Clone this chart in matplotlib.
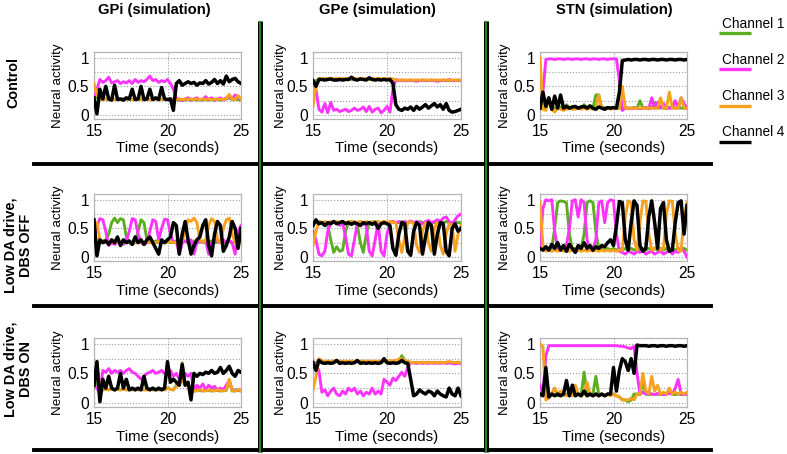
import numpy as np
import matplotlib
matplotlib.use("Agg")
import matplotlib.pyplot as plt
from matplotlib.lines import Line2D

plt.rcParams['font.family'] = ['Liberation Sans', 'DejaVu Sans']

# ---------------- data ----------------
time_s = np.linspace(15, 25, 51)
col_titles = ["GPi (simulation)", "GPe (simulation)", "STN (simulation)"]
row_titles = ["Control", "Low DA drive,\nDBS OFF", "Low DA drive,\nDBS ON"]
channel_names = ["Channel 1", "Channel 2", "Channel 3", "Channel 4"]
x_ticks = [15, 20, 25]
y_ticks = [0, 0.5, 1]
y_ticklabels = ["0", "0.5", "1"]

# Control, GPi
gpi_ctrl_ch1 = [0.30,0.30,0.28,0.27,0.28,0.27,0.28,0.27,0.28,0.27,
                0.28,0.27,0.28,0.27,0.28,0.27,0.28,0.27,0.28,0.27,
                0.28,0.27,0.28,0.27,0.28,0.27,0.28,0.27,0.27,0.26,
                0.27,0.26,0.27,0.26,0.27,0.26,0.27,0.26,0.27,0.26,
                0.27,0.26,0.27,0.26,0.27,0.28,0.30,0.27,0.28,0.27,0.26]
gpi_ctrl_ch2 = [0.30,0.45,0.62,0.57,0.60,0.66,0.56,0.58,0.60,0.55,
                0.58,0.56,0.60,0.55,0.62,0.57,0.60,0.58,0.62,0.68,
                0.60,0.62,0.57,0.60,0.58,0.62,0.55,0.45,0.28,0.28,
                0.25,0.28,0.30,0.26,0.28,0.30,0.26,0.28,0.32,0.27,
                0.30,0.26,0.28,0.30,0.26,0.30,0.33,0.28,0.35,0.30,0.28]
gpi_ctrl_ch3 = [0.55,0.35,0.28,0.27,0.28,0.27,0.28,0.27,0.28,0.27,
                0.28,0.27,0.28,0.27,0.28,0.27,0.28,0.27,0.28,0.27,
                0.28,0.27,0.28,0.27,0.28,0.27,0.28,0.27,0.27,0.28,
                0.27,0.28,0.27,0.28,0.27,0.28,0.27,0.28,0.27,0.28,
                0.27,0.28,0.27,0.28,0.27,0.28,0.36,0.28,0.27,0.34,0.28]
gpi_ctrl_ch4 = [0.30,0.02,0.45,0.28,0.50,0.28,0.26,0.52,0.27,0.28,
                0.26,0.30,0.28,0.45,0.27,0.28,0.50,0.27,0.28,0.45,
                0.27,0.30,0.27,0.48,0.28,0.27,0.28,0.08,0.55,0.60,
                0.52,0.55,0.58,0.55,0.57,0.52,0.56,0.55,0.60,0.54,
                0.57,0.62,0.55,0.60,0.54,0.68,0.58,0.62,0.64,0.58,0.55]

# Control, GPe
gpe_ctrl_ch1 = [0.55,0.60,0.62,0.62,0.62,0.62,0.62,0.62,0.62,0.62,
                0.62,0.62,0.62,0.62,0.62,0.62,0.62,0.62,0.62,0.62,
                0.62,0.62,0.62,0.62,0.62,0.62,0.62,0.61,0.60,0.60,
                0.60,0.60,0.60,0.60,0.60,0.60,0.60,0.60,0.60,0.60,
                0.60,0.60,0.60,0.60,0.60,0.60,0.60,0.60,0.60,0.60,0.60]
gpe_ctrl_ch2 = [0.60,0.45,0.10,0.05,0.20,0.04,0.22,0.08,0.10,0.06,
                0.08,0.10,0.06,0.08,0.12,0.08,0.10,0.14,0.06,0.15,
                0.05,0.10,0.12,0.04,0.08,0.15,0.05,0.45,0.62,0.60,
                0.61,0.60,0.60,0.61,0.60,0.59,0.60,0.61,0.60,0.60,
                0.61,0.60,0.59,0.60,0.61,0.60,0.62,0.60,0.60,0.61,0.60]
gpe_ctrl_ch3 = [0.15,0.50,0.64,0.63,0.64,0.63,0.64,0.63,0.64,0.63,
                0.64,0.63,0.64,0.63,0.64,0.63,0.64,0.63,0.64,0.63,
                0.64,0.63,0.64,0.63,0.64,0.63,0.64,0.63,0.61,0.61,
                0.61,0.61,0.61,0.61,0.61,0.61,0.61,0.61,0.61,0.61,
                0.61,0.61,0.61,0.61,0.61,0.61,0.61,0.61,0.61,0.61,0.61]
gpe_ctrl_ch4 = [0.60,0.50,0.62,0.62,0.61,0.62,0.63,0.61,0.61,0.62,
                0.61,0.62,0.62,0.66,0.62,0.61,0.63,0.62,0.61,0.65,
                0.62,0.61,0.62,0.61,0.62,0.61,0.62,0.55,0.18,0.10,
                0.08,0.12,0.10,0.14,0.08,0.15,0.10,0.14,0.18,0.12,
                0.16,0.20,0.14,0.18,0.10,0.20,0.08,0.05,0.06,0.08,0.10]

# Control, STN
stn_ctrl_ch1 = [0.12,0.12,0.14,0.30,0.12,0.12,0.12,0.14,0.12,0.18,
                0.12,0.14,0.12,0.13,0.12,0.18,0.12,0.13,0.12,0.35,
                0.35,0.12,0.13,0.12,0.13,0.12,0.12,0.12,0.12,0.12,
                0.12,0.12,0.13,0.12,0.25,0.12,0.13,0.12,0.12,0.22,
                0.12,0.13,0.12,0.12,0.13,0.15,0.12,0.13,0.12,0.12,0.12]
stn_ctrl_ch2 = [0.12,0.40,0.97,0.98,0.98,0.97,0.98,0.98,0.97,0.98,
                0.98,0.97,0.98,0.98,0.97,0.98,0.98,0.97,0.98,0.98,
                0.97,0.98,0.98,0.97,0.98,0.98,0.98,0.60,0.08,0.12,
                0.12,0.11,0.12,0.12,0.11,0.12,0.12,0.11,0.30,0.12,
                0.22,0.12,0.20,0.12,0.12,0.12,0.25,0.12,0.30,0.20,0.12]
stn_ctrl_ch3 = [1.00,0.10,0.08,0.25,0.10,0.05,0.12,0.10,0.08,0.10,
                0.12,0.10,0.10,0.12,0.10,0.12,0.10,0.12,0.10,0.12,
                0.35,0.12,0.10,0.12,0.10,0.12,0.12,0.12,0.50,0.12,
                0.12,0.12,0.12,0.12,0.12,0.12,0.12,0.12,0.12,0.12,
                0.12,0.30,0.12,0.12,0.40,0.12,0.12,0.12,0.30,0.12,0.12]
stn_ctrl_ch4 = [0.12,0.40,0.15,0.30,0.10,0.33,0.12,0.35,0.12,0.15,
                0.12,0.14,0.15,0.12,0.14,0.15,0.12,0.16,0.12,0.10,
                0.14,0.12,0.10,0.13,0.12,0.13,0.12,0.40,0.95,0.96,
                0.97,0.96,0.97,0.97,0.96,0.97,0.97,0.96,0.97,0.97,
                0.96,0.97,0.97,0.96,0.97,0.97,0.96,0.97,0.97,0.96,0.97]

# Low DA, DBS OFF, GPi
gpi_off_ch1 = [0.25,0.28,0.25,0.28,0.30,0.40,0.60,0.68,0.60,0.67,
               0.65,0.35,0.25,0.22,0.25,0.45,0.65,0.60,0.30,0.25,
               0.26,0.28,0.25,0.27,0.26,0.28,0.25,0.26,0.28,0.25,
               0.26,0.28,0.25,0.26,0.28,0.25,0.26,0.28,0.25,0.26,
               0.28,0.25,0.26,0.28,0.25,0.26,0.28,0.25,0.26,0.28,0.25]
gpi_off_ch2 = [0.25,0.55,0.67,0.65,0.45,0.20,0.25,0.22,0.25,0.25,
               0.22,0.28,0.45,0.67,0.65,0.40,0.25,0.22,0.25,0.45,
               0.65,0.62,0.30,0.50,0.66,0.65,0.40,0.25,0.28,0.05,
               0.25,0.28,0.25,0.30,0.05,0.25,0.28,0.25,0.28,0.05,
               0.25,0.30,0.28,0.25,0.30,0.25,0.28,0.25,0.05,0.45,0.55]
gpi_off_ch3 = [0.50,0.60,0.30,0.25,0.26,0.25,0.27,0.25,0.26,0.25,
               0.27,0.25,0.26,0.25,0.27,0.25,0.26,0.25,0.27,0.25,
               0.26,0.25,0.27,0.25,0.26,0.25,0.27,0.25,0.26,0.25,
               0.28,0.45,0.65,0.62,0.68,0.60,0.30,0.25,0.30,0.55,
               0.67,0.62,0.30,0.25,0.50,0.65,0.68,0.40,0.25,0.28,0.25]
gpi_off_ch4 = [0.65,0.02,0.30,0.25,0.28,0.22,0.30,0.25,0.35,0.20,
               0.30,0.25,0.28,0.22,0.35,0.25,0.30,0.22,0.30,0.35,
               0.25,0.15,0.05,0.30,0.25,0.30,0.35,0.60,0.55,0.05,
               0.40,0.62,0.30,0.05,0.20,0.30,0.35,0.55,0.65,0.20,
               0.02,0.40,0.62,0.55,0.10,0.20,0.35,0.62,0.50,0.15,0.50]

# Low DA, DBS OFF, GPe
gpe_off_ch1 = [0.60,0.60,0.62,0.60,0.60,0.55,0.30,0.08,0.18,0.10,
               0.12,0.45,0.60,0.62,0.60,0.55,0.25,0.08,0.40,0.60,
               0.60,0.62,0.60,0.60,0.62,0.60,0.60,0.62,0.60,0.60,
               0.62,0.60,0.60,0.62,0.60,0.60,0.62,0.60,0.60,0.62,
               0.60,0.60,0.62,0.60,0.60,0.62,0.60,0.60,0.62,0.60,0.60]
gpe_off_ch2 = [0.45,0.30,0.05,0.02,0.10,0.45,0.60,0.62,0.60,0.55,
               0.60,0.35,0.05,0.02,0.30,0.60,0.62,0.58,0.55,0.10,
               0.02,0.30,0.60,0.10,0.02,0.40,0.60,0.62,0.60,0.62,
               0.58,0.62,0.60,0.63,0.60,0.62,0.60,0.58,0.62,0.64,
               0.60,0.62,0.65,0.62,0.68,0.70,0.62,0.58,0.65,0.72,0.75]
gpe_off_ch3 = [0.20,0.45,0.62,0.60,0.62,0.60,0.62,0.60,0.62,0.60,
               0.62,0.60,0.62,0.60,0.62,0.60,0.62,0.60,0.62,0.60,
               0.62,0.60,0.62,0.60,0.62,0.60,0.62,0.60,0.60,0.30,
               0.08,0.35,0.60,0.62,0.58,0.20,0.08,0.45,0.60,0.25,
               0.10,0.50,0.60,0.20,0.05,0.40,0.58,0.55,0.10,0.40,0.55]
gpe_off_ch4 = [0.55,0.65,0.58,0.60,0.55,0.60,0.58,0.62,0.58,0.60,
               0.62,0.58,0.60,0.57,0.60,0.58,0.55,0.60,0.58,0.60,
               0.57,0.60,0.50,0.58,0.60,0.58,0.55,0.15,0.03,0.40,
               0.60,0.58,0.10,0.03,0.45,0.60,0.55,0.05,0.35,0.60,
               0.55,0.05,0.40,0.60,0.58,0.10,0.02,0.50,0.58,0.45,0.50]

# Low DA, DBS OFF, STN
stn_off_ch1 = [0.15,0.12,0.15,0.12,0.15,0.50,0.95,0.98,0.97,0.95,
               0.40,0.12,0.15,0.12,0.15,0.40,0.95,0.98,0.95,0.45,
               0.12,0.15,0.12,0.15,0.12,0.15,0.12,0.15,0.12,0.15,
               0.12,0.15,0.12,0.15,0.12,0.15,0.12,0.15,0.12,0.15,
               0.12,0.15,0.12,0.15,0.12,0.15,0.12,0.15,0.12,0.15,0.12]
stn_off_ch2 = [0.15,0.85,1.00,0.98,1.00,0.45,0.15,0.12,0.15,0.20,
               0.50,0.98,1.00,0.70,1.00,0.95,0.30,0.12,0.15,0.30,
               0.95,0.98,0.60,0.95,1.00,0.98,0.40,0.10,0.08,0.05,
               0.10,0.08,0.05,0.10,0.08,0.12,0.05,0.08,0.10,0.05,
               0.08,0.10,0.05,0.08,0.12,0.05,0.10,0.08,0.15,0.10,0.00]
stn_off_ch3 = [0.95,0.20,0.10,0.12,0.10,0.12,0.10,0.12,0.10,0.12,
               0.10,0.12,0.10,0.12,0.10,0.12,0.10,0.12,0.10,0.12,
               0.10,0.12,0.10,0.12,0.10,0.12,0.10,0.12,0.12,0.70,
               0.98,0.95,0.30,0.12,0.60,0.98,0.97,0.40,0.12,0.15,
               0.20,0.12,0.15,0.75,0.98,0.97,0.40,0.12,0.10,0.70,0.95]
stn_off_ch4 = [0.15,0.12,0.18,0.12,0.22,0.15,0.25,0.12,0.20,0.10,
               0.22,0.15,0.08,0.20,0.15,0.25,0.15,0.20,0.12,0.18,
               0.15,0.20,0.18,0.25,0.30,0.20,0.55,0.97,0.95,0.30,
               0.12,0.60,0.98,0.90,0.20,0.10,0.15,0.70,0.98,0.60,
               0.15,0.85,0.95,0.30,0.10,0.12,0.60,0.95,0.98,0.40,0.90]

# Low DA, DBS ON, GPi
gpi_on_ch1 = [0.25,0.40,0.20,0.22,0.25,0.22,0.24,0.22,0.23,0.22,
              0.24,0.22,0.23,0.22,0.24,0.22,0.23,0.40,0.22,0.24,
              0.22,0.23,0.22,0.24,0.22,0.25,0.23,0.22,0.30,0.32,
              0.68,0.30,0.32,0.22,0.20,0.22,0.21,0.20,0.22,0.21,
              0.20,0.22,0.21,0.20,0.22,0.21,0.38,0.20,0.22,0.21,0.20]
gpi_on_ch2 = [0.30,0.25,0.15,0.55,0.52,0.58,0.50,0.55,0.52,0.55,
              0.50,0.55,0.58,0.52,0.50,0.45,0.40,0.45,0.50,0.52,
              0.55,0.50,0.52,0.55,0.50,0.50,0.55,0.45,0.50,0.40,
              0.45,0.50,0.45,0.50,0.20,0.30,0.25,0.32,0.22,0.30,
              0.25,0.28,0.22,0.25,0.22,0.30,0.38,0.22,0.20,0.22,0.22]
gpi_on_ch3 = [0.45,0.70,0.20,0.22,0.23,0.22,0.24,0.22,0.23,0.22,
              0.24,0.22,0.23,0.22,0.24,0.22,0.23,0.22,0.22,0.24,
              0.22,0.23,0.22,0.24,0.22,0.25,0.23,0.22,0.28,0.30,
              0.40,0.30,0.32,0.22,0.21,0.20,0.22,0.21,0.20,0.22,
              0.21,0.20,0.22,0.21,0.20,0.22,0.40,0.21,0.20,0.22,0.21]
gpi_on_ch4 = [0.30,0.70,0.02,0.40,0.25,0.45,0.25,0.22,0.25,0.50,
              0.25,0.40,0.22,0.25,0.22,0.25,0.22,0.45,0.25,0.22,
              0.25,0.22,0.25,0.22,0.25,0.70,0.35,0.40,0.35,0.30,
              0.65,0.30,0.35,0.05,0.50,0.45,0.50,0.48,0.52,0.50,
              0.55,0.50,0.52,0.60,0.50,0.55,0.62,0.50,0.45,0.55,0.52]

# Low DA, DBS ON, GPe
gpe_on_ch1 = [0.60,0.68,0.72,0.70,0.70,0.70,0.70,0.70,0.70,0.70,
              0.70,0.70,0.70,0.70,0.70,0.70,0.70,0.70,0.70,0.70,
              0.70,0.70,0.70,0.70,0.70,0.70,0.70,0.70,0.70,0.70,
              0.80,0.72,0.70,0.68,0.68,0.68,0.68,0.68,0.68,0.68,
              0.68,0.68,0.68,0.68,0.68,0.68,0.68,0.68,0.68,0.68,0.68]
gpe_on_ch2 = [0.70,0.65,0.55,0.18,0.22,0.12,0.20,0.25,0.15,0.12,
              0.20,0.15,0.25,0.20,0.25,0.15,0.20,0.12,0.18,0.15,
              0.25,0.15,0.20,0.15,0.40,0.35,0.30,0.42,0.38,0.45,
              0.52,0.45,0.60,0.68,0.68,0.67,0.68,0.67,0.68,0.67,
              0.68,0.67,0.68,0.67,0.68,0.67,0.68,0.67,0.66,0.67,0.67]
gpe_on_ch3 = [0.22,0.45,0.75,0.71,0.70,0.71,0.70,0.71,0.70,0.71,
              0.70,0.71,0.70,0.71,0.70,0.71,0.70,0.71,0.70,0.71,
              0.70,0.71,0.70,0.71,0.70,0.71,0.72,0.71,0.72,0.74,
              0.75,0.72,0.70,0.69,0.68,0.69,0.68,0.69,0.68,0.69,
              0.68,0.69,0.68,0.69,0.68,0.69,0.70,0.69,0.68,0.69,0.68]
gpe_on_ch4 = [0.68,0.55,0.72,0.68,0.67,0.68,0.67,0.68,0.72,0.67,
              0.68,0.67,0.68,0.67,0.68,0.72,0.67,0.68,0.67,0.68,
              0.67,0.68,0.67,0.68,0.75,0.68,0.67,0.68,0.67,0.68,
              0.72,0.68,0.67,0.40,0.12,0.15,0.22,0.18,0.15,0.20,
              0.18,0.12,0.20,0.15,0.12,0.10,0.25,0.15,0.12,0.25,0.12]

# Low DA, DBS ON, STN
stn_on_ch1 = [0.15,0.15,0.28,0.10,0.15,0.25,0.12,0.15,0.13,0.15,
              0.12,0.15,0.13,0.15,0.12,0.52,0.15,0.13,0.15,0.45,
              0.13,0.15,0.12,0.15,0.13,0.15,0.12,0.10,0.05,0.05,
              0.02,0.05,0.15,0.15,0.14,0.35,0.15,0.14,0.15,0.14,
              0.15,0.14,0.15,0.14,0.20,0.15,0.14,0.15,0.14,0.15,0.14]
stn_on_ch2 = [0.30,0.15,0.80,0.97,0.97,0.97,0.97,0.97,0.97,0.97,
              0.97,0.97,0.97,0.97,0.97,0.97,0.97,0.97,0.97,0.97,
              0.97,0.97,0.97,0.97,0.97,0.97,0.97,0.96,0.96,0.95,
              0.93,0.92,0.96,0.50,0.15,0.18,0.15,0.16,0.15,0.14,
              0.16,0.15,0.14,0.15,0.16,0.15,0.25,0.40,0.15,0.14,0.15]
stn_on_ch3 = [1.00,0.95,0.05,0.08,0.15,0.25,0.15,0.20,0.15,0.12,
              0.15,0.12,0.30,0.15,0.12,0.15,0.35,0.15,0.12,0.15,
              0.12,0.15,0.12,0.15,0.12,0.15,0.12,0.10,0.05,0.05,
              0.05,0.08,0.05,0.15,0.15,0.50,0.20,0.15,0.45,0.20,
              0.30,0.15,0.18,0.15,0.25,0.15,0.18,0.15,0.18,0.15,0.18]
stn_on_ch4 = [0.15,0.12,0.60,0.10,0.15,0.12,0.15,0.12,0.15,0.38,
              0.12,0.30,0.12,0.15,0.12,0.20,0.12,0.15,0.12,0.15,
              0.12,0.15,0.12,0.15,0.15,0.60,0.20,0.55,0.75,0.70,
              0.55,0.75,0.50,0.98,0.97,0.97,0.97,0.96,0.97,0.97,
              0.96,0.97,0.97,0.96,0.97,0.97,0.96,0.97,0.97,0.96,0.97]

panels = [
    [(gpi_ctrl_ch1, gpi_ctrl_ch2, gpi_ctrl_ch3, gpi_ctrl_ch4),
     (gpe_ctrl_ch1, gpe_ctrl_ch2, gpe_ctrl_ch3, gpe_ctrl_ch4),
     (stn_ctrl_ch1, stn_ctrl_ch2, stn_ctrl_ch3, stn_ctrl_ch4)],
    [(gpi_off_ch1, gpi_off_ch2, gpi_off_ch3, gpi_off_ch4),
     (gpe_off_ch1, gpe_off_ch2, gpe_off_ch3, gpe_off_ch4),
     (stn_off_ch1, stn_off_ch2, stn_off_ch3, stn_off_ch4)],
    [(gpi_on_ch1, gpi_on_ch2, gpi_on_ch3, gpi_on_ch4),
     (gpe_on_ch1, gpe_on_ch2, gpe_on_ch3, gpe_on_ch4),
     (stn_on_ch1, stn_on_ch2, stn_on_ch3, stn_on_ch4)],
]

# ---------------- style ----------------
colors = ["#5aae1f", "#ff33ff", "#f7a11e", "#000000"]
widths = [2.1, 2.1, 2.1, 2.5]
draw_order = [0, 2, 1, 3]

W, H = 787, 454
fig = plt.figure(figsize=(W / 100, H / 100), dpi=100)

def fx(px):
    return px / W

def fy(py):
    return 1 - py / H

col_left = [94, 313, 540]
col_w = [147, 148, 147]
row_top = [52, 194, 338]
row_bot = [119, 261, 407]
ylabel_off = [36, 32, 35]

for r in range(3):
    for c in range(3):
        h = row_bot[r] - row_top[r]
        ax = fig.add_axes([fx(col_left[c]), fy(row_bot[r]), col_w[c] / W, h / H])
        for k in draw_order:
            ax.plot(time_s, panels[r][c][k], color=colors[k], lw=widths[k],
                    solid_joinstyle='round', zorder=3 + k * 0.1)
        ax.set_xlim(15, 25)
        ax.set_ylim(-0.07, 1.1)
        ax.set_xticks(x_ticks)
        ax.set_xticklabels([str(v) for v in x_ticks])
        ax.set_yticks(y_ticks)
        ax.set_yticklabels(y_ticklabels)
        ax.set_yticks([0.25, 0.75], minor=True)
        ax.tick_params(which='both', length=0, labelsize=11.2, pad=3.5)
        ax.grid(True, which='both', axis='y', linestyle=':', color='#9a9a9a', lw=0.8)
        ax.grid(True, which='major', axis='x', linestyle=':', color='#9a9a9a', lw=0.8)
        for sp in ax.spines.values():
            sp.set_color('#b5b5b5')
            sp.set_linewidth(0.9)
        ax.text(-ylabel_off[c] / col_w[c], 0.5, "Neural activity", transform=ax.transAxes,
                rotation=90, ha='center', va='center', fontsize=9.6)
        ax.text(0.5, -29.5 / h, "Time (seconds)", transform=ax.transAxes,
                ha='center', va='center', fontsize=10.8)

# column titles
for c, (title, xc) in enumerate(zip(col_titles, [154, 377, 614])):
    fig.text(fx(xc), fy(10), title, ha='center', va='center', fontsize=10.6,
             fontweight='bold')

# row titles
for title, (xc, yc) in zip(row_titles, [(13, 82), (18, 245), (18, 369)]):
    fig.text(fx(xc), fy(yc), title, ha='center', va='center', rotation=90,
             fontsize=10.4, fontweight='bold', linespacing=1.15, multialignment='center')

# separators
for yy in [164, 306, 450]:
    fig.add_artist(Line2D([fx(34), fx(711)], [fy(yy), fy(yy)], color='black', lw=2.8,
                          transform=fig.transFigure))
for xx in [260, 486]:
    fig.add_artist(Line2D([fx(xx), fx(xx)], [fy(21), fy(452)], color='black', lw=3.6,
                          transform=fig.transFigure, solid_capstyle='butt'))
    fig.add_artist(Line2D([fx(xx), fx(xx)], [fy(21), fy(452)], color='#1e8a1e', lw=1.4,
                          transform=fig.transFigure, solid_capstyle='butt'))

# legend
for i, name in enumerate(channel_names):
    ty = 24 + 36 * i
    ly = 33 + 36.3 * i
    fig.text(fx(722), fy(ty), name, ha='left', va='center', fontsize=9.8)
    fig.add_artist(Line2D([fx(719), fx(751)], [fy(ly), fy(ly)], color=colors[i], lw=2.4,
                          transform=fig.transFigure, solid_capstyle='butt'))

fig.savefig("out.png", dpi=100)
